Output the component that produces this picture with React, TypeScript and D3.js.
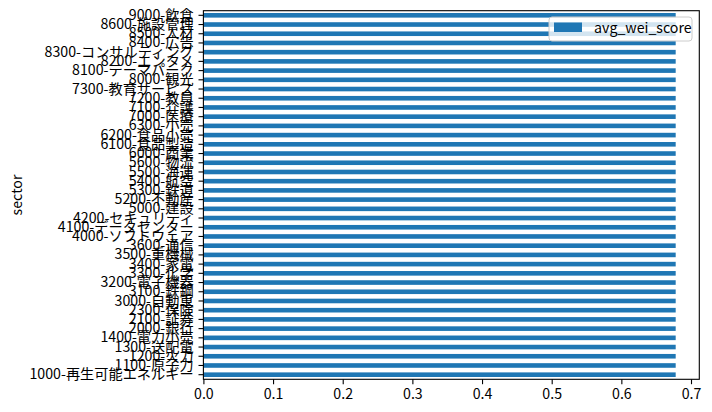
import * as d3 from "d3";
import { useEffect, useRef } from "react";

// sectors, bottom to top as in the chart
const sectors = [
  "1000-再生可能エネルギー",
  "1100-原子力",
  "1200-火力",
  "1300-送配電",
  "1400-電力小売",
  "2000-銀行",
  "2100-証券",
  "2300-保険",
  "3000-自動車",
  "3100-鉄鋼",
  "3200-電子機器",
  "3300-化学",
  "3400-家電",
  "3500-重機械",
  "3600-通信",
  "4000-ソフトウェア",
  "4100-データセンター",
  "4200-セキュリティ",
  "5000-建設",
  "5200-不動産",
  "5300-鉄道",
  "5400-航空",
  "5500-海運",
  "5600-物流",
  "6000-商業",
  "6100-食品製造",
  "6200-食品小売",
  "6300-小売",
  "7000-医療",
  "7100-介護",
  "7200-教員",
  "7300-教育サービス",
  "8000-観光",
  "8100-テーマパーク",
  "8200-エンタメ",
  "8300-コンサルティング",
  "8400-広告",
  "8500-人材",
  "8600-施設管理",
  "9000-飲食",
];

const avgWeiScore = [
  0.678, 0.678, 0.678, 0.678, 0.678, 0.678, 0.678, 0.678, 0.678, 0.678,
  0.678, 0.678, 0.678, 0.678, 0.678, 0.678, 0.678, 0.678, 0.678, 0.678,
  0.678, 0.678, 0.678, 0.678, 0.678, 0.678, 0.678, 0.678, 0.678, 0.678,
  0.678, 0.678, 0.678, 0.678, 0.678, 0.678, 0.678, 0.678, 0.678, 0.678,
];

const xTicks = [0, 0.1, 0.2, 0.3, 0.4, 0.5, 0.6, 0.7];

const seriesName = "avg_wei_score";
const yTitle = "sector";

const FONT = "'Noto Sans CJK JP', 'DejaVu Sans', sans-serif";
const BLUE = "#1f77b4";

export default function App() {
  const svgRef = useRef<SVGSVGElement | null>(null);
  const width = 712;
  const height = 412;

  useEffect(() => {
    document.body.style.margin = "0";
    if (!svgRef.current) return;
    const svg = d3.select(svgRef.current);
    svg.selectAll("*").remove();

    const left = 203.4;
    const right = 699.3;
    const top = 10.7;
    const bottom = 379.3;

    const maxV = d3.max(avgWeiScore) ?? 0;
    const x = d3
      .scaleLinear()
      .domain([0, maxV * 1.05])
      .range([left, right]);

    // band scale, bottom sector at the bottom
    const y = d3
      .scaleBand()
      .domain(sectors)
      .range([bottom, top])
      .paddingInner(0.5)
      .paddingOuter(0.25);

    // bars
    svg
      .append("g")
      .selectAll("rect")
      .data(sectors)
      .enter()
      .append("rect")
      .attr("x", x(0))
      .attr("y", (d) => y(d)!)
      .attr("width", (_, i) => x(avgWeiScore[i]) - x(0))
      .attr("height", y.bandwidth())
      .attr("fill", BLUE);

    // x axis
    const xAxis = svg
      .append("g")
      .attr("transform", `translate(0,${bottom})`)
      .call(
        d3
          .axisBottom(x)
          .tickValues(xTicks)
          .tickFormat(d3.format(".1f"))
          .tickSize(4.9)
          .tickPadding(4.9)
      );
    xAxis.select(".domain").remove();
    xAxis.selectAll("line").attr("stroke", "#000").attr("stroke-width", 1.1);
    xAxis
      .selectAll("text")
      .attr("font-family", FONT)
      .attr("font-size", 14.2)
      .attr("fill", "#000");

    // y axis
    const yAxis = svg
      .append("g")
      .attr("transform", `translate(${left},0)`)
      .call(d3.axisLeft(y).tickSize(4.9).tickPadding(4.9));
    yAxis.select(".domain").remove();
    yAxis.selectAll("line").attr("stroke", "#000").attr("stroke-width", 1.1);
    yAxis
      .selectAll("text")
      .attr("font-family", FONT)
      .attr("font-size", 14.2)
      .attr("fill", "#000");

    // frame
    svg
      .append("rect")
      .attr("x", left)
      .attr("y", top)
      .attr("width", right - left)
      .attr("height", bottom - top)
      .attr("fill", "none")
      .attr("stroke", "#000")
      .attr("stroke-width", 1.1);

    // y title
    svg
      .append("text")
      .attr("transform", `translate(22,${(top + bottom) / 2}) rotate(-90)`)
      .attr("text-anchor", "middle")
      .attr("font-family", FONT)
      .attr("font-size", 14.2)
      .text(yTitle);

    // legend
    const lg = svg.append("g");
    lg.append("rect")
      .attr("x", 549)
      .attr("y", 17)
      .attr("width", 143)
      .attr("height", 24)
      .attr("rx", 3)
      .attr("fill", "#fff")
      .attr("fill-opacity", 0.8)
      .attr("stroke", "#ccc")
      .attr("stroke-width", 1);
    lg.append("rect")
      .attr("x", 554)
      .attr("y", 22.5)
      .attr("width", 28)
      .attr("height", 9.5)
      .attr("fill", BLUE);
    lg.append("text")
      .attr("x", 594)
      .attr("y", 29)
      .attr("dominant-baseline", "middle")
      .attr("font-family", FONT)
      .attr("font-size", 14.2)
      .text(seriesName);
  }, []);

  return (
    <svg
      ref={svgRef}
      width={width}
      height={height}
      style={{ display: "block", background: "#fff" }}
    />
  );
}
